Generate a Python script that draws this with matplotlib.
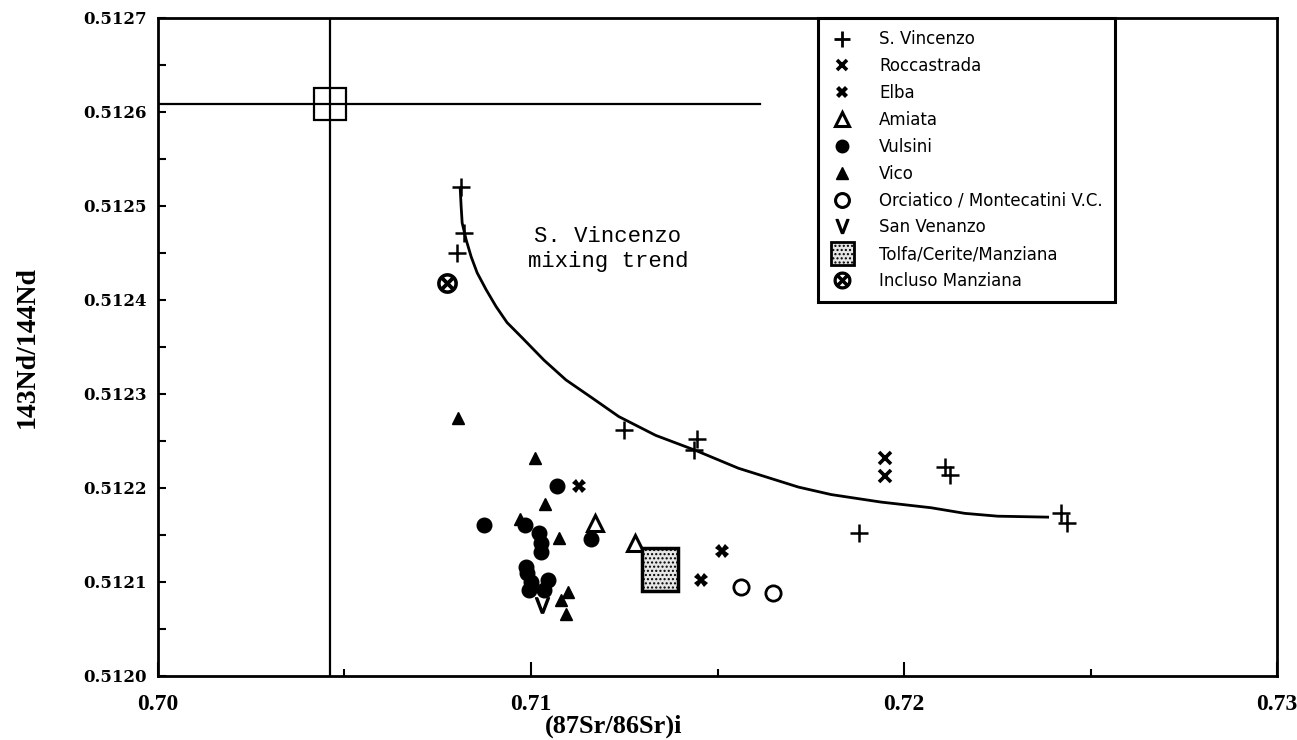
import numpy as np
import matplotlib
matplotlib.use("Agg")
from matplotlib import pyplot as plt
from matplotlib.patches import Rectangle, Patch
from matplotlib.lines import Line2D
from matplotlib.legend_handler import HandlerPatch
from matplotlib.ticker import MultipleLocator, FormatStrFormatter

# Sample groups, (87Sr/86Sr)i vs 143Nd/144Nd
vincenzo_x = [0.70813, 0.70821, 0.70802, 0.71249, 0.71444, 0.71436,
              0.71880, 0.72110, 0.72123, 0.72420, 0.72436]
vincenzo_y = [0.512520, 0.512471, 0.512450, 0.512262, 0.512252, 0.512240,
              0.512152, 0.512222, 0.512214, 0.512173, 0.512163]

roccastrada_x = [0.71949, 0.71949]
roccastrada_y = [0.512232, 0.512213]

elba_x = [0.71128, 0.71511, 0.71457]
elba_y = [0.512202, 0.512133, 0.512102]

amiata_x = [0.71171, 0.71278]
amiata_y = [0.512163, 0.512141]

vulsini_x = [0.71070, 0.70874, 0.70984, 0.71021, 0.71027, 0.71027, 0.71160,
             0.70987, 0.70989, 0.71000, 0.70995, 0.71046, 0.71035]
vulsini_y = [0.512202, 0.512161, 0.512161, 0.512152, 0.512141, 0.512132, 0.512146,
             0.512116, 0.512110, 0.512100, 0.512091, 0.512102, 0.512091]

vico_x = [0.70805, 0.71011, 0.71037, 0.70971, 0.71075, 0.71099, 0.71080, 0.71094]
vico_y = [0.512274, 0.512232, 0.512183, 0.512167, 0.512147, 0.512089, 0.512081, 0.512066]

orciatico_x = [0.71564, 0.71650]
orciatico_y = [0.512095, 0.512088]

venanzo_x = [0.71029]
venanzo_y = [0.512076]

tolfa_x = 0.71345
tolfa_y = 0.512113

incluso_x = [0.70775]
incluso_y = [0.512418]

# reference point (crosshair)
ref_x = 0.7046
ref_y = 0.512609
ref_line_end = 0.71615

# S. Vincenzo mixing curve
trend_x = [0.708102, 0.708128, 0.708155, 0.708262, 0.708396, 0.708556, 0.708797,
           0.709064, 0.709358, 0.709759, 0.710348, 0.710936, 0.711631, 0.712353,
           0.713342, 0.714412, 0.715561, 0.717166, 0.718048, 0.719385, 0.720722,
           0.721631, 0.722513, 0.723850]
trend_y = [0.512519, 0.512499, 0.512482, 0.512464, 0.512446, 0.512429, 0.512411,
           0.512393, 0.512376, 0.512360, 0.512336, 0.512315, 0.512296, 0.512276,
           0.512256, 0.512240, 0.512221, 0.512201, 0.512193, 0.512185, 0.512179,
           0.512173, 0.512170, 0.512169]

fig = plt.figure(figsize=(12.97, 7.40), dpi=100)
ax = fig.add_axes([0.1218, 0.0865, 0.8628, 0.8892])

# crosshair
ax.plot([ref_x, ref_x], [0.5120, 0.5127], color="black", lw=1.6)
ax.plot([0.70, ref_line_end], [ref_y, ref_y], color="black", lw=1.6)
ax.plot([ref_x], [ref_y], marker="s", ms=23, mfc="none", mec="black", mew=1.6)

# mixing curve
ax.plot(trend_x, trend_y, color="black", lw=2, solid_joinstyle="round")
ax.text(0.71206, 0.512454, "S. Vincenzo\nmixing trend", ha="center", va="center",
        family="Liberation Mono", fontsize=16, linespacing=1.25)

ax.plot(vincenzo_x, vincenzo_y, ls="none", marker="+", ms=13, mew=1.8, color="black")
ax.plot(roccastrada_x, roccastrada_y, ls="none", marker="x", ms=8, mew=2.6, color="black")
ax.plot(elba_x, elba_y, ls="none", marker="X", ms=10, color="black", mew=0)
ax.plot(amiata_x, amiata_y, ls="none", marker="^", ms=11, mfc="white", mec="black", mew=2.2)
ax.plot(vulsini_x, vulsini_y, ls="none", marker="o", ms=10.5, color="black")
ax.plot(vico_x, vico_y, ls="none", marker="^", ms=9, color="black")
ax.plot(orciatico_x, orciatico_y, ls="none", marker="o", ms=11, mfc="white", mec="black", mew=2)
ax.plot(venanzo_x, venanzo_y, ls="none", marker=r"$\mathsf{V}$", ms=11, color="black")
ax.plot(incluso_x, incluso_y, ls="none", marker=r"$\otimes$", ms=14, color="black")

sq_w = 0.00096
sq_h = 0.0000457
ax.add_patch(Rectangle((tolfa_x - sq_w / 2, tolfa_y - sq_h / 2), sq_w, sq_h,
                       facecolor="#e6e6e6", edgecolor="black", lw=2.5, hatch="....", zorder=3))

ax.set_xlim(0.70, 0.73)
ax.set_ylim(0.5120, 0.5127)
ax.xaxis.set_major_locator(MultipleLocator(0.01))
ax.xaxis.set_minor_locator(MultipleLocator(0.005))
ax.yaxis.set_major_locator(MultipleLocator(0.0001))
ax.yaxis.set_minor_locator(MultipleLocator(0.00005))
ax.xaxis.set_major_formatter(FormatStrFormatter("%.2f"))
ax.yaxis.set_major_formatter(FormatStrFormatter("%.4f"))
ax.tick_params(axis="x", which="major", direction="in", length=10, width=1.5, pad=13,
               labelsize=17, labelfontfamily="Liberation Serif")
ax.tick_params(axis="x", which="minor", direction="in", length=5, width=1.5)
ax.tick_params(axis="y", which="both", direction="in", length=6, width=1.5, pad=8,
               labelsize=12, labelfontfamily="DejaVu Serif")
for lab in ax.get_xticklabels() + ax.get_yticklabels():
    lab.set_fontweight("bold")
for sp in ax.spines.values():
    sp.set_linewidth(2)

ax.set_xlabel("(87Sr/86Sr)i", family="Liberation Serif", fontweight="bold", fontsize=19)
ax.set_ylabel("143Nd/144Nd", family="Liberation Serif", fontweight="bold", fontsize=20)
ax.xaxis.set_label_coords(0.407, -0.058)
ax.yaxis.set_label_coords(-0.106, 0.5)


def square_handle(legend, orig_handle, xdescent, ydescent, width, height, fontsize):
    s = height * 2.0
    return Rectangle((width / 2 - s / 2 - xdescent, height / 2 - s / 2 - ydescent), s, s)


handles = [
    Line2D([], [], ls="none", marker="+", ms=12, mew=2, color="black"),
    Line2D([], [], ls="none", marker="x", ms=7, mew=2.6, color="black"),
    Line2D([], [], ls="none", marker="X", ms=9, mew=0, color="black"),
    Line2D([], [], ls="none", marker="^", ms=10, mfc="white", mec="black", mew=2.2),
    Line2D([], [], ls="none", marker="o", ms=9, color="black"),
    Line2D([], [], ls="none", marker="^", ms=8, color="black"),
    Line2D([], [], ls="none", marker="o", ms=10, mfc="white", mec="black", mew=2.2),
    Line2D([], [], ls="none", marker=r"$\mathsf{V}$", ms=10, color="black"),
    Patch(facecolor="#e6e6e6", edgecolor="black", lw=2, hatch="...."),
    Line2D([], [], ls="none", marker=r"$\otimes$", ms=12, color="black"),
]
labels = ["S. Vincenzo", "Roccastrada", "Elba", "Amiata", "Vulsini", "Vico",
          "Orciatico / Montecatini V.C.", "San Venanzo", "Tolfa/Cerite/Manziana",
          "Incluso Manziana"]
leg = ax.legend(handles, labels, loc="upper left", bbox_to_anchor=(0.590, 1.0),
                borderaxespad=0, fancybox=False, framealpha=1, edgecolor="black",
                prop={"family": "DejaVu Sans", "size": 12}, handlelength=1.4,
                handletextpad=1.5, labelspacing=0.53, borderpad=0.75,
                handler_map={Patch: HandlerPatch(patch_func=square_handle)})
leg.get_frame().set_linewidth(2.2)

fig.savefig("out.png", dpi=100)
